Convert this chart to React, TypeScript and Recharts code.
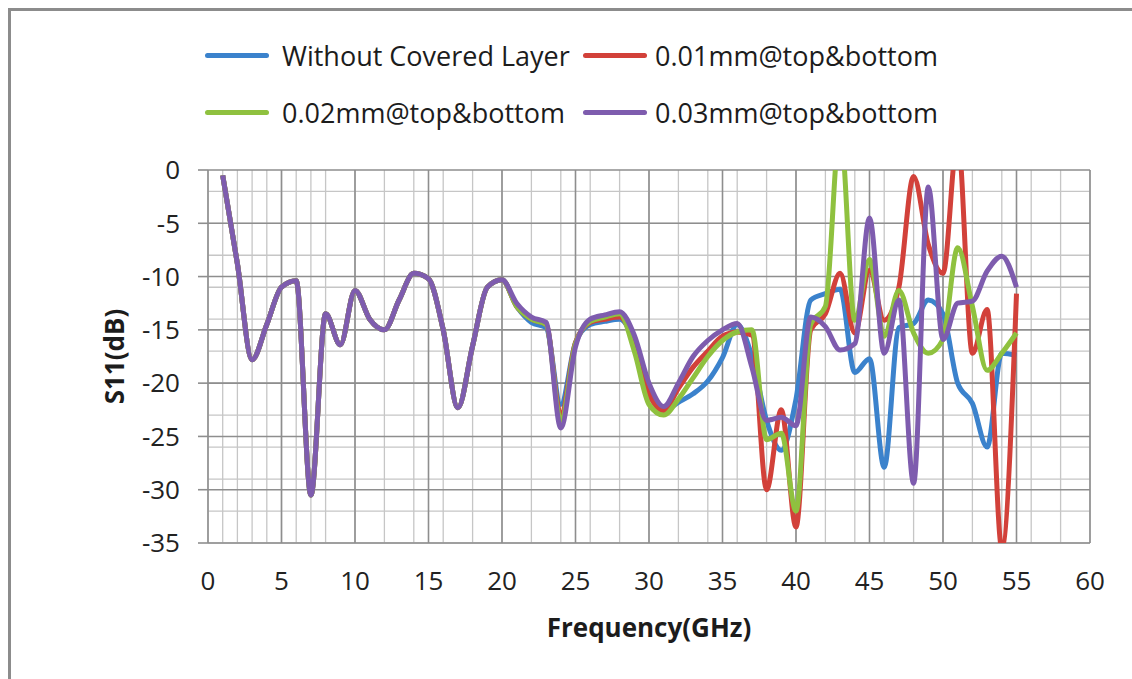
import React from 'react';
import { LineChart, Line, XAxis, YAxis, CartesianGrid, Label } from 'recharts';

// frequency points in GHz
const freqs = [
  1, 2, 3, 4, 5, 6, 7, 8, 9, 10, 11, 12, 13, 14, 15, 16, 17, 18, 19, 20,
  21, 22, 23, 24, 25, 26, 27, 28, 29, 30, 31, 32, 33, 34, 35, 36, 37, 38, 39, 40,
  41, 42, 43, 44, 45, 46, 47, 48, 49, 50, 51, 52, 53, 54, 55,
];

// 1..20 GHz, all four curves lie on top of each other here
const commonHead = [
  -0.5, -8.8, -17.8, -14.5, -11, -10.4, -30.5, -13.5, -16.4, -11.3,
  -14, -15, -12.2, -9.7, -10.2, -15, -22.3, -16.5, -11, -10.3,
];

// 21..55 GHz
const blueTail = [
  -12.8, -14.3, -14.8, -22, -16.2, -14.5, -14.2, -14, -16, -20.5,
  -22.6, -21.8, -21, -19.8, -17.6, -14.5, -17.5, -23.5, -26.3, -21.5,
  -12.2, -11.6, -11.2, -19, -17.7, -27.9, -14.8, -14.4, -12.2, -13.5,
  -20, -21.9, -26, -17.2, -17.4,
];
const redTail = [
  -12.8, -14, -14.5, -23, -16.2, -14.3, -14, -13.8, -16.2, -21,
  -22.6, -20.5, -18.5, -17, -15.6, -15.2, -15.5, -30, -22.5, -33.5,
  -15, -13.5, -9.7, -15.3, -9.4, -14.1, -11, -0.6, -7, -9.7,
  3, -17.2, -13.1, -35.5, -11.6,
];
const greenTail = [
  -12.8, -14, -14.5, -23.5, -16.3, -14.2, -13.8, -13.5, -17, -22,
  -23, -21.5, -19.5, -17.5, -16, -15.2, -15, -25.3, -24.7, -32,
  -14.5, -12.8, 4, -14.1, -8.4, -15.6, -11.3, -15.3, -17.2, -15.9,
  -7.3, -12.8, -18.8, -17.2, -15.3,
];
const purpleTail = [
  -12.5, -13.8, -14.3, -24.2, -16.6, -14, -13.6, -13.3, -15.5, -20,
  -22.2, -20, -17.5, -16, -15, -14.4, -18.5, -23.5, -23.2, -24,
  -13.8, -14.7, -16.9, -16.3, -4.5, -17.2, -12.2, -29.4, -1.6, -15.9,
  -12.5, -12.3, -9.5, -8.1, -11,
];

const seriesNames = [
  'Without Covered Layer',
  '0.01mm@top&bottom',
  '0.02mm@top&bottom',
  '0.03mm@top&bottom',
];
const seriesColors = ['#3b82cc', '#d2413a', '#8fc13f', '#7e5cae'];
const seriesTails = [blueTail, redTail, greenTail, purpleTail];

const xTicks = [0, 5, 10, 15, 20, 25, 30, 35, 40, 45, 50, 55, 60];
const yTicks = [0, -5, -10, -15, -20, -25, -30, -35];

// minor grid every 1 unit
const xMinor = Array.from({ length: 61 }, (_, i) => i);
const yMinor = Array.from({ length: 36 }, (_, i) => -i);

const font = "'Open Sans', sans-serif";

const seriesData = seriesTails.map(tail =>
  freqs.map((f, i) => ({ f, s11: i < commonHead.length ? commonHead[i] : tail[i - commonHead.length] }))
);

const Legend = () => {
  const rows = [[0, 1], [2, 3]];
  return (
    <div style={{ position: 'absolute', left: 194, top: 24, fontFamily: font, fontSize: 27, color: '#1c1c1c' }}>
      {rows.map((row, r) => (
        <div key={r} style={{ display: 'flex', height: 40, marginBottom: 17 }}>
          {row.map((idx, c) => (
            <div key={idx} style={{ display: 'flex', alignItems: 'center', width: c === 0 ? 378 : 'auto' }}>
              <div style={{ width: 64, height: 5, borderRadius: 3, background: seriesColors[idx], marginRight: c === 0 ? 13 : 8 }} />
              <span>{seriesNames[idx]}</span>
            </div>
          ))}
        </div>
      ))}
    </div>
  );
};

export default function App() {
  // fixed frame so the border runs off the right and bottom edges without scrolling
  return (
    <div
      style={{
        position: 'fixed',
        left: 8,
        top: 8,
        width: 1140,
        height: 690,
        boxSizing: 'border-box',
        borderTop: '3px solid #8c8c8c',
        borderLeft: '3px solid #8c8c8c',
        background: '#fff',
        overflow: 'hidden',
      }}
    >
      <Legend />
      <div style={{ position: 'absolute', left: -3, top: -3 }}>
        <LineChart width={1124} height={660} margin={{ top: 162, right: 42, bottom: 25, left: 90 }}>
          <CartesianGrid
            stroke="#c6c6c6"
            strokeWidth={1.3}
            horizontalValues={yMinor}
            verticalValues={xMinor}
          />
          <CartesianGrid
            stroke="#8e8e8e"
            strokeWidth={1.6}
            horizontalValues={yTicks}
            verticalValues={xTicks}
          />
          <XAxis
            type="number"
            dataKey="f"
            domain={[0, 60]}
            ticks={xTicks}
            axisLine={false}
            tickLine={false}
            tickSize={0}
            tickMargin={29}
            height={100}
            tick={{ fontSize: 26, fill: '#222', fontFamily: font }}
          >
            <Label
              value="Frequency(GHz)"
              position="insideBottom"
              offset={6}
              style={{ fontSize: 26, fontWeight: 700, fill: '#1c1c1c', fontFamily: font }}
            />
          </XAxis>
          <YAxis
            type="number"
            domain={[-35, 0]}
            ticks={yTicks}
            allowDataOverflow
            axisLine={false}
            tickLine={{ stroke: '#8e8e8e', strokeWidth: 1.6 }}
            tickSize={10}
            tickMargin={18}
            width={110}
            tick={{ fontSize: 26, fill: '#222', fontFamily: font }}
          >
            <Label
              value="S11(dB)"
              angle={-90}
              position="insideLeft"
              offset={17}
              style={{ fontSize: 26, fontWeight: 700, fill: '#1c1c1c', fontFamily: font, textAnchor: 'middle' }}
            />
          </YAxis>
          {seriesData.map((data, i) => (
            <Line
              key={seriesNames[i]}
              data={data}
              dataKey="s11"
              name={seriesNames[i]}
              type="monotone"
              stroke={seriesColors[i]}
              strokeWidth={5}
              dot={false}
              isAnimationActive={false}
            />
          ))}
        </LineChart>
      </div>
    </div>
  );
}
